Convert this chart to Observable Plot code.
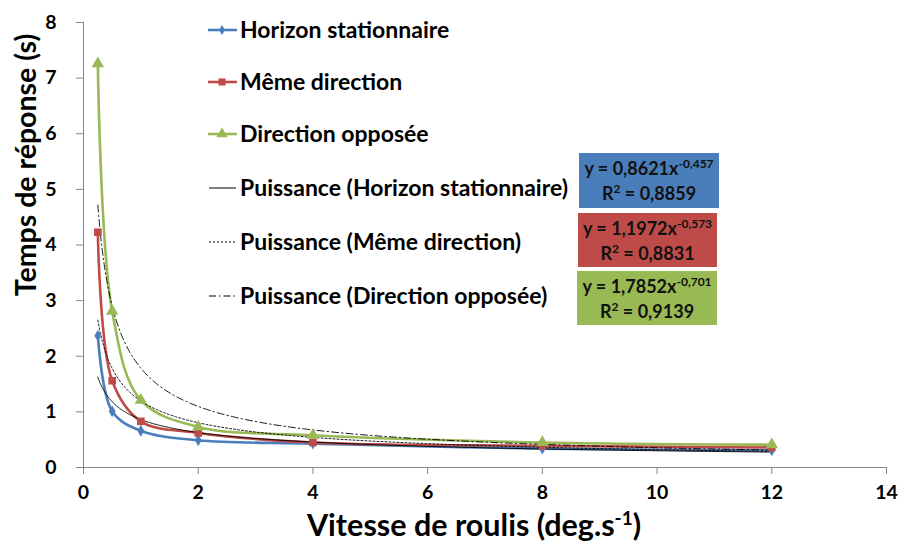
<!DOCTYPE html>
<html><head><meta charset="utf-8">
<script src="https://cdn.jsdelivr.net/npm/d3@7"></script>
<script src="https://cdn.jsdelivr.net/npm/@observablehq/plot@0.6"></script>
<style>body{margin:0;background:#fff} #chart{position:relative;width:907px;height:543px}</style>
</head><body><div id="chart"></div>
<script>
// ---- data ----
const vitesse = [0.25, 0.5, 1, 2, 4, 8, 12];
const horizonStationnaire = [2.37, 1.01, 0.66, 0.49, 0.43, 0.34, 0.31];
const memeDirection = [4.23, 1.56, 0.83, 0.62, 0.45, 0.39, 0.36];
const directionOpposee = [7.26, 2.81, 1.21, 0.73, 0.58, 0.45, 0.41];
const seriesNames = ["Horizon stationnaire", "Même direction", "Direction opposée"];
const seriesColors = ["#4A7EBB", "#BE4B48", "#98B954"];
const seriesSymbols = ["diamond", "square", "triangle"];
const trendA = [0.8621, 1.1972, 1.7852];
const trendB = [-0.457, -0.573, -0.701];
const trendALabels = ["0,8621", "1,1972", "1,7852"];
const trendBLabels = ["-0,457", "-0,573", "-0,701"];
const r2Labels = ["0,8859", "0,8831", "0,9139"];
const trendNames = ["Puissance (Horizon stationnaire)", "Puissance (Même direction)", "Puissance (Direction opposée)"];
const trendDash = [null, "2,2", "7,3,1.5,3"];
const xTicks = [0, 2, 4, 6, 8, 10, 12, 14];
const yTicks = [0, 1, 2, 3, 4, 5, 6, 7, 8];

const seriesValues = [horizonStationnaire, memeDirection, directionOpposee];
const rows = seriesValues.flatMap((vals, i) => vals.map((v, j) => ({series: seriesNames[i], x: vitesse[j], y: v})));
// power trend lines y = a x^b (the fitted equations shown on the chart)
const trendRows = [];
seriesNames.forEach((s, i) => {
  const n = 200, x0 = vitesse[0], x1 = vitesse[vitesse.length - 1];
  for (let k = 0; k <= n; k++) {
    const x = x0 * Math.pow(x1 / x0, k / n);
    trendRows.push({series: s, x, y: trendA[i] * Math.pow(x, trendB[i])});
  }
});

const FONT = "Lato, 'Open Sans', sans-serif";
const AXIS = "#868686";

const marks = [
  Plot.ruleY([0], {stroke: AXIS, strokeWidth: 1}),
  Plot.ruleX([0], {stroke: AXIS, strokeWidth: 1}),
  Plot.axisX({ticks: xTicks, tickSize: 7, stroke: AXIS, fill: "black", fontSize: 19.5, fontWeight: "bold", tickPadding: 11, label: null}),
  Plot.axisY({ticks: yTicks, tickSize: 7, stroke: AXIS, fill: "black", fontSize: 19.5, fontWeight: "bold", tickPadding: 20, label: null}),
  Plot.line(rows, {x: "x", y: "y", z: "series", stroke: "series", strokeWidth: 2.6, curve: "catmull-rom"})
];
seriesNames.forEach((s, i) => {
  marks.push(Plot.line(trendRows.filter(d => d.series === s), {x: "x", y: "y", stroke: "black", strokeWidth: 0.9, strokeDasharray: trendDash[i]}));
});
seriesNames.forEach((s, i) => {
  marks.push(Plot.dot(rows.filter(d => d.series === s), {x: "x", y: "y", symbol: () => seriesSymbols[i], fill: seriesColors[i], stroke: "none", r: [3.6, 4.3, 4.6][i]}));
});

const chart = Plot.plot({
  width: 907, height: 543,
  marginLeft: 83, marginRight: 21, marginTop: 22, marginBottom: 76,
  x: {domain: [0, 14]},
  y: {domain: [0, 8]},
  color: {domain: seriesNames, range: seriesColors},
  symbol: {domain: seriesSymbols, range: seriesSymbols},
  style: {fontFamily: FONT, background: "white", overflow: "visible"},
  marks
});
document.getElementById("chart").append(chart);

// ---- annotations: axis titles, legend, equation boxes ----
const svg = d3.select(chart);
svg.append("text").attr("transform", "translate(36,165) rotate(-90)")
  .attr("text-anchor", "middle").attr("font-family", FONT).attr("font-size", 28.5).attr("font-weight", "bold").attr("fill", "black")
  .text("Temps de réponse (s)");
const xl = svg.append("text").attr("x", 474).attr("y", 536).attr("text-anchor", "middle")
  .attr("font-family", FONT).attr("font-size", 30.5).attr("font-weight", "bold").attr("fill", "black");
xl.append("tspan").text("Vitesse de roulis (deg.s");
xl.append("tspan").attr("dy", -11).attr("font-size", 19).text("-1");
xl.append("tspan").attr("dy", 11).text(")");

const legendY = [30, 82, 134, 188, 242, 296];
const lg = svg.append("g").attr("font-family", FONT).attr("font-size", 23).attr("font-weight", "bold").attr("text-anchor", "start").attr("fill", "black");
seriesNames.forEach((s, i) => {
  const y = legendY[i];
  lg.append("line").attr("x1", 208).attr("x2", 237).attr("y1", y).attr("y2", y).attr("stroke", seriesColors[i]).attr("stroke-width", 2.6);
  const sym = [d3.symbolDiamond, d3.symbolSquare, d3.symbolTriangle][i];
  const size = [30, 50, 56][i];
  lg.append("path").attr("d", d3.symbol(sym, size)()).attr("transform", `translate(222,${y})`).attr("fill", seriesColors[i]);
  lg.append("text").attr("x", 240).attr("y", y).attr("dy", "0.35em").text(s);
});
trendNames.forEach((s, i) => {
  const y = legendY[3 + i];
  lg.append("line").attr("x1", 209).attr("x2", 236).attr("y1", y).attr("y2", y).attr("stroke", "black").attr("stroke-width", 1)
    .attr("stroke-dasharray", trendDash[i]);
  lg.append("text").attr("x", 240).attr("y", y).attr("dy", "0.35em").text(s);
});

const boxes = [{x: 579, y: 153, w: 140, h: 55}, {x: 578, y: 213, w: 139, h: 54}, {x: 577, y: 271, w: 140, h: 54}];
boxes.forEach((b, i) => {
  const g = svg.append("g").attr("font-family", FONT).attr("font-size", 18).attr("font-weight", "bold").attr("fill", "#111");
  g.append("rect").attr("x", b.x).attr("y", b.y).attr("width", b.w).attr("height", b.h).attr("fill", seriesColors[i]);
  const cx = b.x + b.w / 2;
  const t1 = g.append("text").attr("x", cx).attr("y", b.y + 22).attr("text-anchor", "middle");
  t1.append("tspan").text(`y = ${trendALabels[i]}x`);
  t1.append("tspan").attr("dy", -7).attr("font-size", 12).text(trendBLabels[i]);
  const t2 = g.append("text").attr("x", cx).attr("y", b.y + 47).attr("text-anchor", "middle");
  t2.append("tspan").text("R");
  t2.append("tspan").attr("dy", -7).attr("font-size", 12).text("2");
  t2.append("tspan").attr("dy", 7).text(` = ${r2Labels[i]}`);
});
</script>
</body></html>
